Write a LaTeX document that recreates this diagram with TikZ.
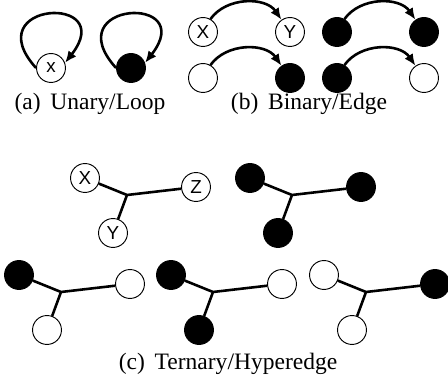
\documentclass[tikz,border=0pt]{standalone}
\usepackage{fontspec}
\setmainfont{Liberation Serif}
\setsansfont{Liberation Sans}
\usetikzlibrary{arrows.meta,calc}

\begin{document}
\begin{tikzpicture}[x=0.425pt,y=0.425pt,
    vert/.style={circle,draw,line width=0.4pt,minimum size=12.3pt,inner sep=0pt,
        font=\sffamily\fontsize{8}{9}\selectfont},
    on/.style={vert,fill=black},
    off/.style={vert,fill=white},
    link/.style={line width=1.1pt},
    arc/.style={link,-{Latex[length=5pt,width=4.2pt]}},
    sublabel/.style={anchor=base,font=\fontsize{10}{12}\selectfont}]

    \useasboundingbox (0,0) rectangle (448,-379);

    % Unary / loop
    \node[off] (ux) at (51,-68) {x};
    \node[on] (uf) at (131,-68) {};
    \draw[arc] (ux.west) .. controls +(132:90) and +(52:88) .. (ux.20);
    \draw[arc] (uf.west) .. controls +(132:90) and +(52:88) .. (uf.20);
    \node[sublabel] (capa) at (90,-110) {(a)\, Unary/Loop};

    % Binary / edge
    \node[off] (bx) at (203,-32) {X};
    \node[off] (by) at (290,-32) {Y};
    \node[on] (b1a) at (337,-32) {};
    \node[on] (b1b) at (424,-32) {};
    \node[off] (b2a) at (203,-78) {};
    \node[on] (b2b) at (290,-78) {};
    \node[on] (b3a) at (337,-78) {};
    \node[off] (b3b) at (424,-78) {};
    \draw[arc] (bx.60) to[bend left=55] (by.125);
    \draw[arc] (b1a.60) to[bend left=55] (b1b.125);
    \draw[arc] (b2a.60) to[bend left=55] (b2b.125);
    \draw[arc] (b3a.60) to[bend left=55] (b3b.125);
    \node[sublabel] (capb) at (309,-110) {(b)\, Binary/Edge};

    % Ternary / hyperedge, top row
    \coordinate (h1) at (127,-195);
    \node[off] (h1x) at ($(h1)+(-42,17)$) {X};
    \node[off] (h1z) at ($(h1)+(69,8)$) {Z};
    \node[off] (h1y) at ($(h1)+(-14,-38)$) {Y};
    \draw[link] (h1) -- (h1x) (h1) -- (h1z) (h1) -- (h1y);

    \coordinate (h2) at (292,-195);
    \node[on] (h2x) at ($(h2)+(-42,17)$) {};
    \node[on] (h2z) at ($(h2)+(69,8)$) {};
    \node[on] (h2y) at ($(h2)+(-14,-38)$) {};
    \draw[link] (h2) -- (h2x) (h2) -- (h2z) (h2) -- (h2y);

    % Ternary / hyperedge, bottom row
    \coordinate (h3) at (61,-292);
    \node[on] (h3x) at ($(h3)+(-42,17)$) {};
    \node[off] (h3z) at ($(h3)+(69,8)$) {};
    \node[off] (h3y) at ($(h3)+(-14,-38)$) {};
    \draw[link] (h3) -- (h3x) (h3) -- (h3z) (h3) -- (h3y);

    \coordinate (h4) at (213,-292);
    \node[on] (h4x) at ($(h4)+(-42,17)$) {};
    \node[off] (h4z) at ($(h4)+(69,8)$) {};
    \node[on] (h4y) at ($(h4)+(-14,-38)$) {};
    \draw[link] (h4) -- (h4x) (h4) -- (h4z) (h4) -- (h4y);

    \coordinate (h5) at (366,-292);
    \node[off] (h5x) at ($(h5)+(-42,17)$) {};
    \node[on] (h5z) at ($(h5)+(69,8)$) {};
    \node[off] (h5y) at ($(h5)+(-14,-38)$) {};
    \draw[link] (h5) -- (h5x) (h5) -- (h5z) (h5) -- (h5y);

    \node[sublabel] (capc) at (228,-370) {(c)\, Ternary/Hyperedge};

\end{tikzpicture}
\end{document}
